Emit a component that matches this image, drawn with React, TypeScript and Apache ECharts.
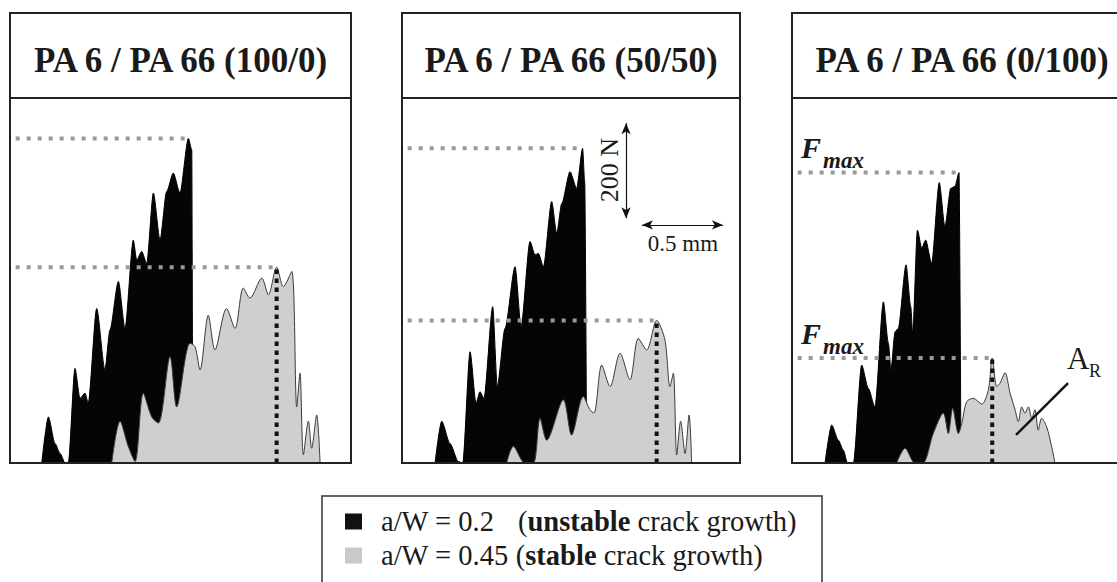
import React, { useEffect, useRef } from "react";
import * as echarts from "echarts";

// ---------- data (displacement in mm, force in N) ----------
const PANEL_TITLES = ["PA 6 / PA 66 (100/0)", "PA 6 / PA 66 (50/50)", "PA 6 / PA 66 (0/100)"];
const SERIES_NAMES = ["a/W = 0.2", "a/W = 0.45"];
const LEGEND_NOTES = ["unstable", "stable"];

const P1_UNSTABLE: number[][] = [
  [0.196, 0], [0.237, 97], [0.278, 41], [0.309, 20], [0.34, 0], [0.36, 0], [0.401, 199], [0.432, 136],
  [0.463, 147], [0.483, 126], [0.535, 325], [0.586, 196], [0.617, 280], [0.669, 382], [0.71, 283],
  [0.761, 469], [0.782, 427], [0.813, 445], [0.844, 420], [0.885, 568], [0.926, 469], [0.967, 571],
  [1.008, 610], [1.049, 568], [1.101, 683], [1.122, 659], [1.128, 0],
];
const P1_STABLE: number[][] = [
  [0.628, 0], [0.679, 88], [0.73, 35], [0.772, 3], [0.823, 147], [0.875, 97], [0.916, 84], [0.988, 224],
  [1.029, 118], [1.111, 252], [1.142, 245], [1.173, 196], [1.224, 311], [1.265, 238], [1.337, 325],
  [1.389, 283], [1.44, 368], [1.481, 347], [1.554, 389], [1.595, 354], [1.646, 412], [1.687, 371],
  [1.739, 403], [1.77, 118], [1.79, 189], [1.811, 17], [1.842, 88], [1.862, 31], [1.893, 101], [1.914, 0],
];
const P2_UNSTABLE: number[][] = [
  [0.204, 0], [0.245, 88], [0.296, 41], [0.348, 3], [0.375, 0], [0.42, 234], [0.457, 126], [0.481, 150],
  [0.506, 136], [0.56, 329], [0.588, 161], [0.636, 283], [0.698, 413], [0.735, 287], [0.79, 466],
  [0.821, 438], [0.842, 441], [0.873, 413], [0.924, 550], [0.955, 483], [0.986, 546], [1.037, 613],
  [1.078, 578], [1.115, 662], [1.128, 590], [1.14, 0],
];
const P2_STABLE: number[][] = [
  [0.646, 0], [0.687, 35], [0.759, 0], [0.811, 0], [0.852, 94], [0.893, 48], [0.996, 133], [1.047, 59],
  [1.119, 140], [1.16, 112], [1.185, 105], [1.233, 206], [1.284, 161], [1.346, 231], [1.407, 175],
  [1.459, 262], [1.51, 238], [1.572, 300], [1.623, 259], [1.654, 161], [1.675, 189], [1.696, 17],
  [1.72, 88], [1.747, 20], [1.772, 101], [1.788, 0],
];
const P3_UNSTABLE: number[][] = [
  [0.204, 0], [0.245, 80], [0.286, 48], [0.317, 27], [0.342, 0], [0.379, 0], [0.43, 206], [0.471, 157],
  [0.512, 118], [0.564, 339], [0.595, 252], [0.611, 196], [0.636, 276], [0.656, 283], [0.704, 417],
  [0.733, 329], [0.745, 273], [0.774, 490], [0.801, 452], [0.825, 469], [0.862, 420], [0.909, 590],
  [0.944, 497], [0.98, 578], [1.006, 582], [1.031, 611], [1.043, 0],
];
const P3_STABLE: number[][] = [
  [0.646, 0], [0.698, 31], [0.759, 0], [0.807, 0], [0.872, 62], [0.934, 105], [0.965, 62], [0.992, 115],
  [1.027, 62], [1.048, 83], [1.078, 129], [1.119, 136], [1.171, 124], [1.212, 154], [1.236, 221],
  [1.264, 161], [1.284, 168], [1.315, 190], [1.346, 147], [1.377, 112], [1.397, 87], [1.418, 118],
  [1.438, 105], [1.459, 118], [1.48, 94], [1.5, 112], [1.52, 69], [1.541, 94], [1.572, 76], [1.603, 34],
  [1.623, 0],
];
const UNSTABLE = [P1_UNSTABLE, P2_UNSTABLE, P3_UNSTABLE];
const STABLE = [P1_STABLE, P2_STABLE, P3_STABLE];

// scale bars (panel 2) and A_R pointer (panel 3)
const SCALE_FORCE_X = 1.383;
const SCALE_FORCE = [515, 715]; // 200 N
const SCALE_DISP_Y = 501;
const SCALE_DISP = [1.481, 1.981]; // 0.5 mm
const AR_POINTER: number[][] = [[1.704, 168], [1.383, 59]];
const DOT_START_MM = 0.035;

// ---------- layout ----------
const CANVAS_W = 1117;
const PANEL_LEFT = [10, 402, 792];
const PANEL_WIDTH = [341, 338, 340];
const BOX_TOP = 13;
const PLOT_TOP = 98;
const PLOT_HEIGHT = 365;
const PX_PER_MM = 162;
const N_PER_PX = 2.104;
const SERIF = "Liberation Serif";
const INK = "#1a1a1a";
const LEG_FS = 28.5;

function peak(arr: number[][]) {
  return arr.reduce((m, p) => (p[1] > m[1] ? p : m), arr[0]);
}

export default function App() {
  const ref = useRef<HTMLDivElement>(null);
  useEffect(() => {
    if (!ref.current) return;
    const chart = echarts.init(ref.current, undefined, { renderer: "svg" });

    const grid: any[] = [];
    const xAxis: any[] = [];
    const yAxis: any[] = [];
    const series: any[] = [];
    const graphic: any[] = [];

    for (let i = 0; i < 3; i++) {
      const L = PANEL_LEFT[i];
      const W = PANEL_WIDTH[i];
      const GW = Math.min(W, CANVAS_W - L); // visible plot width
      grid.push({ left: L, top: PLOT_TOP, width: GW, height: PLOT_HEIGHT, containLabel: false });
      xAxis.push({ type: "value", gridIndex: i, min: 0, max: GW / PX_PER_MM, show: false });
      yAxis.push({ type: "value", gridIndex: i, min: 0, max: PLOT_HEIGHT * N_PER_PX, show: false });

      const u = UNSTABLE[i];
      const s = STABLE[i];
      const pu = peak(u);
      const ps = peak(s);

      series.push({
        type: "line", name: SERIES_NAMES[0], xAxisIndex: i, yAxisIndex: i, data: u,
        symbol: "none", smooth: 0.25, smoothMonotone: "x", z: 2,
        lineStyle: { color: "#000", width: 1 },
        itemStyle: { color: "#000" },
        areaStyle: { color: "#050505", opacity: 1 },
      });
      series.push({
        type: "line", name: SERIES_NAMES[1], xAxisIndex: i, yAxisIndex: i, data: s,
        symbol: "none", smooth: 0.3, z: 3,
        lineStyle: { color: "#3a3a3a", width: 1 },
        itemStyle: { color: "#c8c8c8" },
        areaStyle: { color: "#cfcfcf", opacity: 1 },
      });
      series.push({
        type: "line", xAxisIndex: i, yAxisIndex: i, silent: true, symbol: "none", z: 4,
        data: [[DOT_START_MM, pu[1]], [pu[0], pu[1]]],
        lineStyle: { color: "#9a9a9a", width: 4, type: [4, 7] },
      });
      series.push({
        type: "line", xAxisIndex: i, yAxisIndex: i, silent: true, symbol: "none", z: 4,
        data: [[DOT_START_MM, ps[1]], [ps[0], ps[1]]],
        lineStyle: { color: "#9a9a9a", width: 4, type: [4, 7] },
      });
      const vert: any = {
        type: "line", xAxisIndex: i, yAxisIndex: i, silent: true, symbol: "none", z: 5,
        data: [[ps[0], 0], [ps[0], ps[1]]],
        lineStyle: { color: "#111", width: 4, type: [4.5, 4.5] },
      };
      if (i === 1) {
        vert.markLine = {
          silent: true,
          symbol: ["arrow", "arrow"],
          symbolSize: [7, 11],
          lineStyle: { color: "#111", width: 1.2, type: "solid" },
          label: { show: false },
          data: [
            [{ coord: [SCALE_FORCE_X, SCALE_FORCE[0]] }, { coord: [SCALE_FORCE_X, SCALE_FORCE[1]] }],
            [{ coord: [SCALE_DISP[0], SCALE_DISP_Y] }, { coord: [SCALE_DISP[1], SCALE_DISP_Y] }],
          ],
        };
      }
      series.push(vert);
      if (i === 2) {
        series.push({
          type: "line", xAxisIndex: i, yAxisIndex: i, silent: true, symbol: "none", z: 6,
          data: AR_POINTER,
          lineStyle: { color: "#111", width: 2.5 },
        });
      }

      graphic.push({
        type: "rect", z: 10, silent: true,
        shape: { x: L, y: BOX_TOP, width: W, height: PLOT_TOP + PLOT_HEIGHT - BOX_TOP },
        style: { fill: "none", stroke: "#222", lineWidth: 2 },
      });
      graphic.push({
        type: "line", z: 10, silent: true,
        shape: { x1: L, y1: PLOT_TOP, x2: L + W, y2: PLOT_TOP },
        style: { stroke: "#222", lineWidth: 2 },
      });
    }

    const txt = (text: string, x: number, y: number, size: number, opts: any = {}) => ({
      type: "text", z: 12, silent: true, x, y, rotation: opts.rotation || 0,
      style: {
        text, fill: INK, fontFamily: SERIF, fontSize: size,
        fontWeight: opts.weight || "normal", fontStyle: opts.style || "normal",
        align: opts.align || "left", verticalAlign: "middle",
      },
    });

    // F_max labels (panel 3)
    graphic.push(txt("F", 801, 147.5, 30, { weight: "bold", style: "italic" }));
    graphic.push(txt("max", 823, 160, 23, { weight: "bold", style: "italic" }));
    graphic.push(txt("F", 801, 333, 30, { weight: "bold", style: "italic" }));
    graphic.push(txt("max", 823, 346, 23, { weight: "bold", style: "italic" }));
    // A_R
    graphic.push(txt("A", 1067, 358, 31));
    graphic.push(txt("R", 1089, 371, 18));
    // scale labels (panel 2)
    graphic.push(txt("200 N", 609, 170, 26, { align: "center", rotation: Math.PI / 2 }));
    graphic.push(txt("0.5 mm", 683, 243, 23, { align: "center" }));
    // legend frame
    graphic.push({
      type: "rect", z: 10, silent: true,
      shape: { x: 322, y: 496, width: 500, height: 120 },
      style: { fill: "none", stroke: "#333", lineWidth: 1.5 },
    });

    const base = { fontFamily: SERIF, fontSize: LEG_FS, color: INK, lineHeight: 30 };
    const rich = {
      a1: { ...base, width: 137 },
      a2: { ...base },
      n: { ...base },
      b: { ...base, fontWeight: "bold" },
    };

    chart.setOption({
      animation: false,
      backgroundColor: "#fff",
      textStyle: { fontFamily: SERIF },
      title: PANEL_TITLES.map((t, i) => ({
        text: t,
        left: PANEL_LEFT[i] + PANEL_WIDTH[i] / 2,
        top: 40,
        textAlign: "center",
        padding: 0,
        textStyle: { fontFamily: SERIF, fontSize: 35, fontWeight: "bold", color: INK, lineHeight: 40 },
      })),
      legend: {
        orient: "vertical",
        left: 345,
        top: 507,
        padding: 0,
        itemWidth: 17,
        itemHeight: 16,
        itemGap: 5,
        selectedMode: false,
        data: [
          { name: SERIES_NAMES[0], icon: "rect", itemStyle: { color: "#111", borderWidth: 0 } },
          { name: SERIES_NAMES[1], icon: "rect", itemStyle: { color: "#c9c9c9", borderWidth: 0 } },
        ],
        textStyle: { fontFamily: SERIF, fontSize: LEG_FS, color: INK, padding: [0, 0, 0, 14], rich },
        formatter: (name: string) => {
          const k = SERIES_NAMES.indexOf(name);
          const sep = k === 0 ? "" : " ";
          return `{a${k + 1}|${name}${sep}}{n|(}{b|${LEGEND_NOTES[k]}}{n| crack growth)}`;
        },
      },
      grid,
      xAxis,
      yAxis,
      series,
      graphic,
    });
    return () => chart.dispose();
  }, []);
  return (
    <div
      ref={ref}
      style={{ position: "absolute", left: 0, top: 0, width: 1117, height: 582, background: "#fff" }}
    />
  );
}
